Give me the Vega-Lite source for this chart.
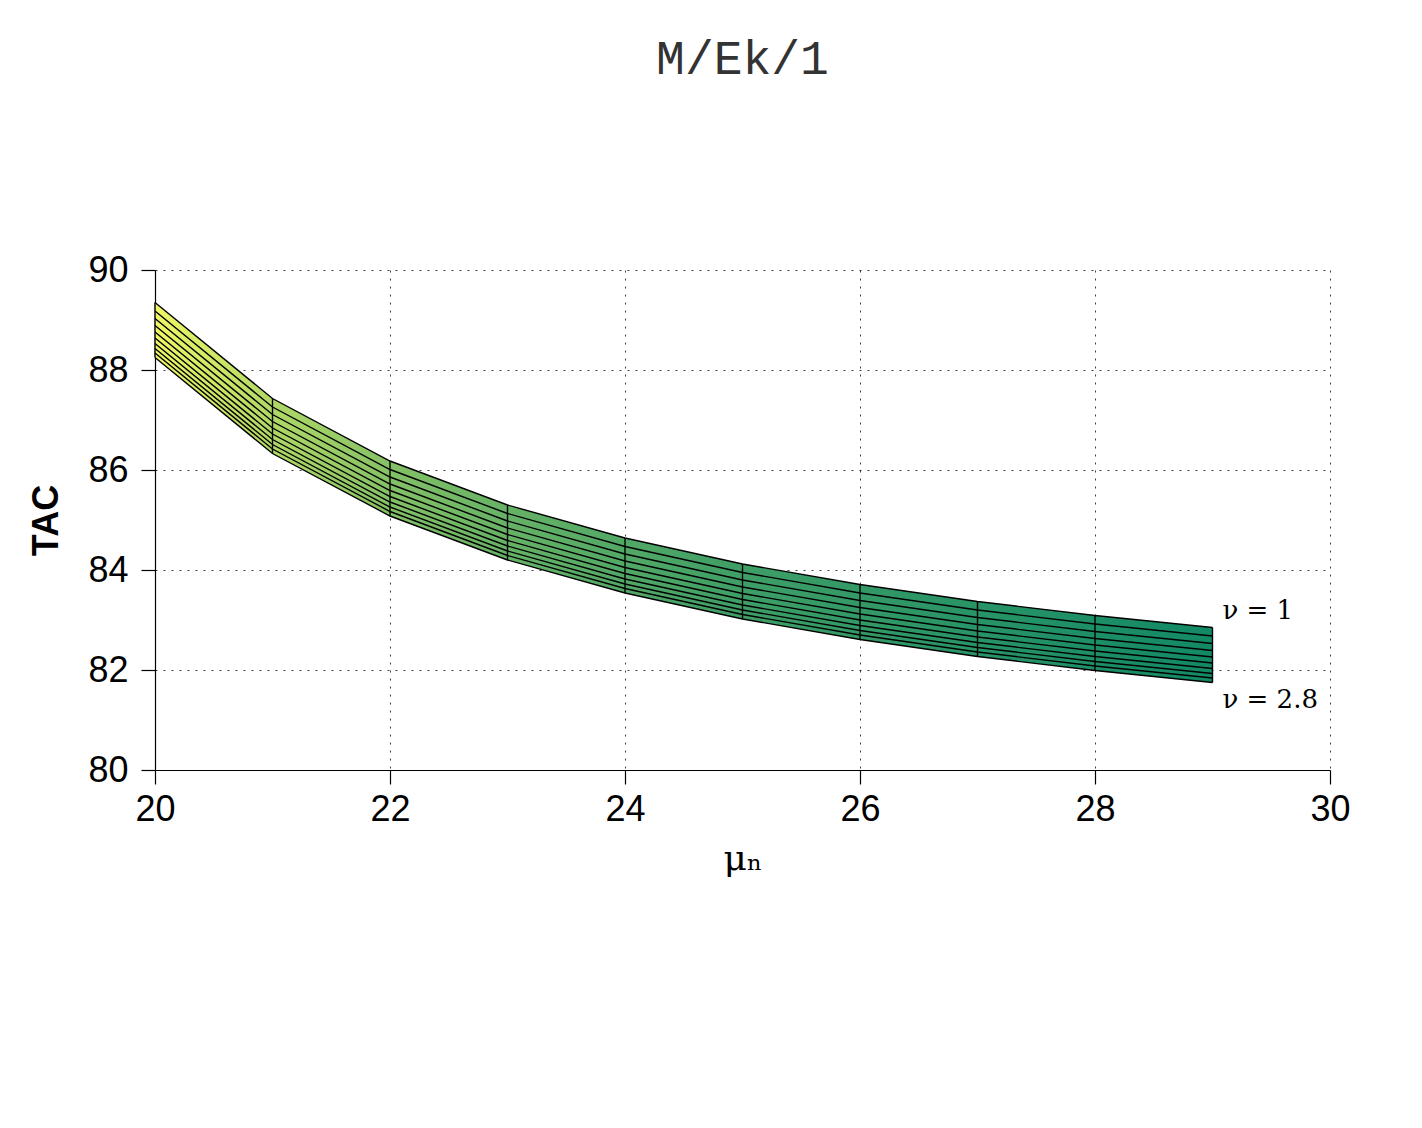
{
  "$schema": "https://vega.github.io/schema/vega-lite/v6.json",
  "width": 1175,
  "height": 500,
  "autosize": {"type": "none"},
  "padding": {"left": 155, "top": 270, "right": 92, "bottom": 358},
  "background": "white",
  "title": {"text": "M/Ek/1", "font": "Liberation Mono", "fontSize": 48, "fontWeight": "normal", "color": "#333333", "offset": 168, "anchor": "middle"},
  "config": {
    "view": {"stroke": null},
    "axis": {
      "labelFont": "Liberation Sans", "labelFontSize": 36, "labelColor": "#000000", "labelFlush": false,
      "titleFont": "Liberation Sans", "titleFontSize": 36, "titleColor": "#000000",
      "domainColor": "#000000", "domainWidth": 1.2, "tickColor": "#000000", "tickWidth": 1.2, "tickSize": 14,
      "gridColor": "#000000", "gridDash": [2, 6], "gridOpacity": 0.75, "gridWidth": 1
    }
  },
  "data": {"values": [
    {"mu": 20, "nu": 1.0, "tac": 89.35}, {"mu": 20, "nu": 1.2, "tac": 89.18}, {"mu": 20, "nu": 1.4, "tac": 89.03}, {"mu": 20, "nu": 1.6, "tac": 88.89}, {"mu": 20, "nu": 1.8, "tac": 88.76}, {"mu": 20, "nu": 2.0, "tac": 88.64}, {"mu": 20, "nu": 2.2, "tac": 88.53}, {"mu": 20, "nu": 2.4, "tac": 88.43}, {"mu": 20, "nu": 2.6, "tac": 88.34}, {"mu": 20, "nu": 2.8, "tac": 88.25},
    {"mu": 21, "nu": 1.0, "tac": 87.43}, {"mu": 21, "nu": 1.2, "tac": 87.26}, {"mu": 21, "nu": 1.4, "tac": 87.11}, {"mu": 21, "nu": 1.6, "tac": 86.97}, {"mu": 21, "nu": 1.8, "tac": 86.84}, {"mu": 21, "nu": 2.0, "tac": 86.72}, {"mu": 21, "nu": 2.2, "tac": 86.61}, {"mu": 21, "nu": 2.4, "tac": 86.51}, {"mu": 21, "nu": 2.6, "tac": 86.42}, {"mu": 21, "nu": 2.8, "tac": 86.33},
    {"mu": 22, "nu": 1.0, "tac": 86.18}, {"mu": 22, "nu": 1.2, "tac": 86.01}, {"mu": 22, "nu": 1.4, "tac": 85.86}, {"mu": 22, "nu": 1.6, "tac": 85.72}, {"mu": 22, "nu": 1.8, "tac": 85.59}, {"mu": 22, "nu": 2.0, "tac": 85.47}, {"mu": 22, "nu": 2.2, "tac": 85.36}, {"mu": 22, "nu": 2.4, "tac": 85.26}, {"mu": 22, "nu": 2.6, "tac": 85.17}, {"mu": 22, "nu": 2.8, "tac": 85.08},
    {"mu": 23, "nu": 1.0, "tac": 85.30}, {"mu": 23, "nu": 1.2, "tac": 85.13}, {"mu": 23, "nu": 1.4, "tac": 84.98}, {"mu": 23, "nu": 1.6, "tac": 84.84}, {"mu": 23, "nu": 1.8, "tac": 84.71}, {"mu": 23, "nu": 2.0, "tac": 84.59}, {"mu": 23, "nu": 2.2, "tac": 84.48}, {"mu": 23, "nu": 2.4, "tac": 84.38}, {"mu": 23, "nu": 2.6, "tac": 84.29}, {"mu": 23, "nu": 2.8, "tac": 84.20},
    {"mu": 24, "nu": 1.0, "tac": 84.64}, {"mu": 24, "nu": 1.2, "tac": 84.47}, {"mu": 24, "nu": 1.4, "tac": 84.32}, {"mu": 24, "nu": 1.6, "tac": 84.18}, {"mu": 24, "nu": 1.8, "tac": 84.05}, {"mu": 24, "nu": 2.0, "tac": 83.93}, {"mu": 24, "nu": 2.2, "tac": 83.82}, {"mu": 24, "nu": 2.4, "tac": 83.72}, {"mu": 24, "nu": 2.6, "tac": 83.63}, {"mu": 24, "nu": 2.8, "tac": 83.54},
    {"mu": 25, "nu": 1.0, "tac": 84.12}, {"mu": 25, "nu": 1.2, "tac": 83.95}, {"mu": 25, "nu": 1.4, "tac": 83.80}, {"mu": 25, "nu": 1.6, "tac": 83.66}, {"mu": 25, "nu": 1.8, "tac": 83.53}, {"mu": 25, "nu": 2.0, "tac": 83.41}, {"mu": 25, "nu": 2.2, "tac": 83.30}, {"mu": 25, "nu": 2.4, "tac": 83.20}, {"mu": 25, "nu": 2.6, "tac": 83.11}, {"mu": 25, "nu": 2.8, "tac": 83.02},
    {"mu": 26, "nu": 1.0, "tac": 83.71}, {"mu": 26, "nu": 1.2, "tac": 83.54}, {"mu": 26, "nu": 1.4, "tac": 83.39}, {"mu": 26, "nu": 1.6, "tac": 83.25}, {"mu": 26, "nu": 1.8, "tac": 83.12}, {"mu": 26, "nu": 2.0, "tac": 83.00}, {"mu": 26, "nu": 2.2, "tac": 82.89}, {"mu": 26, "nu": 2.4, "tac": 82.79}, {"mu": 26, "nu": 2.6, "tac": 82.70}, {"mu": 26, "nu": 2.8, "tac": 82.61},
    {"mu": 27, "nu": 1.0, "tac": 83.37}, {"mu": 27, "nu": 1.2, "tac": 83.20}, {"mu": 27, "nu": 1.4, "tac": 83.05}, {"mu": 27, "nu": 1.6, "tac": 82.91}, {"mu": 27, "nu": 1.8, "tac": 82.78}, {"mu": 27, "nu": 2.0, "tac": 82.66}, {"mu": 27, "nu": 2.2, "tac": 82.55}, {"mu": 27, "nu": 2.4, "tac": 82.45}, {"mu": 27, "nu": 2.6, "tac": 82.36}, {"mu": 27, "nu": 2.8, "tac": 82.27},
    {"mu": 28, "nu": 1.0, "tac": 83.09}, {"mu": 28, "nu": 1.2, "tac": 82.92}, {"mu": 28, "nu": 1.4, "tac": 82.77}, {"mu": 28, "nu": 1.6, "tac": 82.63}, {"mu": 28, "nu": 1.8, "tac": 82.50}, {"mu": 28, "nu": 2.0, "tac": 82.38}, {"mu": 28, "nu": 2.2, "tac": 82.27}, {"mu": 28, "nu": 2.4, "tac": 82.17}, {"mu": 28, "nu": 2.6, "tac": 82.08}, {"mu": 28, "nu": 2.8, "tac": 81.99},
    {"mu": 29, "nu": 1.0, "tac": 82.85}, {"mu": 29, "nu": 1.2, "tac": 82.68}, {"mu": 29, "nu": 1.4, "tac": 82.53}, {"mu": 29, "nu": 1.6, "tac": 82.39}, {"mu": 29, "nu": 1.8, "tac": 82.26}, {"mu": 29, "nu": 2.0, "tac": 82.14}, {"mu": 29, "nu": 2.2, "tac": 82.03}, {"mu": 29, "nu": 2.4, "tac": 81.93}, {"mu": 29, "nu": 2.6, "tac": 81.84}, {"mu": 29, "nu": 2.8, "tac": 81.75}
  ]},
  "layer": [
    {
      "mark": {"type": "area", "stroke": null, "fill": {"gradient": "linear", "x1": 0, "x2": 1, "y1": 0, "y2": 0, "stops": [
        {"offset": 0, "color": "#f0f866"},
        {"offset": 0.111, "color": "#b0d866"},
        {"offset": 0.222, "color": "#84c166"},
        {"offset": 0.333, "color": "#66b266"},
        {"offset": 0.556, "color": "#3e9e66"},
        {"offset": 1, "color": "#128966"}
      ]}},
      "encoding": {
        "x": {"field": "mu", "type": "quantitative", "title": "μₙ", "scale": {"domain": [20, 30]},
              "axis": {"values": [20, 22, 24, 26, 28, 30], "format": "d", "titleFont": "DejaVu Serif", "titleFontWeight": "normal", "titlePadding": 14, "labelPadding": 8}},
        "y": {"aggregate": "max", "field": "tac", "type": "quantitative", "title": "TAC", "scale": {"domain": [80, 90]},
              "axis": {"values": [80, 82, 84, 86, 88, 90], "format": "d", "titleFontWeight": "bold", "titlePadding": 22, "labelPadding": 13}},
        "y2": {"aggregate": "min", "field": "tac"}
      }
    },
    {
      "mark": {"type": "line", "stroke": "#000000", "strokeWidth": 1.4},
      "encoding": {
        "x": {"field": "mu", "type": "quantitative", "title": "μₙ"},
        "y": {"field": "tac", "type": "quantitative", "title": "TAC"},
        "detail": {"field": "nu", "type": "nominal"},
        "order": {"field": "mu", "type": "quantitative"}
      }
    },
    {
      "mark": {"type": "line", "stroke": "#000000", "strokeWidth": 1.4},
      "encoding": {
        "x": {"field": "mu", "type": "quantitative", "title": "μₙ"},
        "y": {"field": "tac", "type": "quantitative", "title": "TAC"},
        "detail": {"field": "mu", "type": "nominal"},
        "order": {"field": "nu", "type": "quantitative"}
      }
    },
    {
      "transform": [{"filter": "datum.mu == 29 && datum.nu == 1"}],
      "mark": {"type": "text", "align": "left", "baseline": "bottom", "dx": 10, "dy": -4, "font": "DejaVu Serif", "fontSize": 26, "color": "#000000"},
      "encoding": {
        "x": {"field": "mu", "type": "quantitative", "title": "μₙ"},
        "y": {"field": "tac", "type": "quantitative", "title": "TAC"},
        "text": {"value": "ν = 1"}
      }
    },
    {
      "transform": [{"filter": "datum.mu == 29 && datum.nu == 2.8"}],
      "mark": {"type": "text", "align": "left", "baseline": "top", "dx": 10, "dy": 4, "font": "DejaVu Serif", "fontSize": 26, "color": "#000000"},
      "encoding": {
        "x": {"field": "mu", "type": "quantitative", "title": "μₙ"},
        "y": {"field": "tac", "type": "quantitative", "title": "TAC"},
        "text": {"value": "ν = 2.8"}
      }
    }
  ]
}
